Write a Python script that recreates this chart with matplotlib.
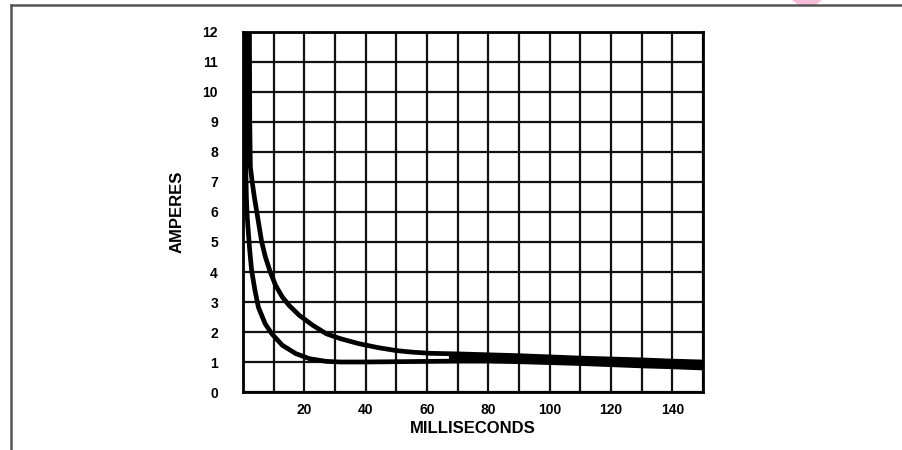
import numpy as np
import matplotlib
matplotlib.use("Agg")
import matplotlib.pyplot as plt
from matplotlib.patches import Ellipse
from matplotlib.lines import Line2D

# upper curve (outer)
upper_x = [2.1, 2.2, 2.4, 3.0, 3.7, 4.5, 5.3, 6.1, 7.3, 8.9, 10.6, 12.8, 15, 18.3, 22.8, 27.2, 31.7,
           37.8, 44, 50, 55, 61, 70, 80, 90, 100, 110, 120, 130, 140, 150]
upper_y = [12, 9, 7.5, 7.0, 6.5, 6, 5.5, 5, 4.5, 4, 3.56, 3.17, 2.89, 2.56, 2.22, 1.94, 1.78,
           1.61, 1.48, 1.38, 1.33, 1.29, 1.27, 1.24, 1.21, 1.17, 1.13, 1.1, 1.07, 1.03, 1.0]

# lower curve (inner)
lower_x = [0.5, 0.7, 0.9, 1.1, 1.4, 1.7, 2.2, 2.8, 3.9, 5, 7.2, 9.4, 12.8, 17.2, 21.7, 27.2, 31.7,
           40, 50, 60, 70, 80, 90, 100, 110, 120, 130, 140, 150]
lower_y = [12, 9, 7.5, 6.5, 5.8, 5.39, 4.72, 4.06, 3.39, 2.83, 2.28, 1.94, 1.56, 1.28, 1.11, 1.02, 1.0,
           1.0, 1.01, 1.02, 1.03, 1.03, 1.01, 0.98, 0.95, 0.91, 0.87, 0.84, 0.8]

x_ticks = [20, 40, 60, 80, 100, 120, 140]
y_ticks = list(range(0, 13))

fig = plt.figure(figsize=(9.03, 4.5), dpi=100)
ax = fig.add_axes([243 / 903, 1 - 392 / 450, 460 / 903, 360 / 450])

# grid
for gx in range(0, 151, 10):
    ax.axvline(gx, color="#111111", lw=1.6, zorder=1)
for gy in range(0, 13):
    ax.axhline(gy, color="#111111", lw=1.6, zorder=1)

ax.plot(upper_x, upper_y, color="black", lw=3.4, zorder=3, solid_capstyle="butt", solid_joinstyle="round")
ax.plot(lower_x, lower_y, color="black", lw=3.4, zorder=3, solid_capstyle="butt", solid_joinstyle="round")

# thick band where the curves run together (right side)
xs = np.linspace(67, 150, 200)
ax.fill_between(xs, np.interp(xs, lower_x, lower_y), np.interp(xs, upper_x, upper_y),
                color="black", zorder=3, lw=0)

# thick mass at the top left
ys = np.linspace(7.5, 12, 100)
xu = np.interp(ys, upper_y[:4][::-1], upper_x[:4][::-1])
ax.fill_betweenx(ys, 0, xu, color="black", zorder=3, lw=0)

ax.set_xlim(0, 150)
ax.set_ylim(0, 12)
ax.set_xticks(x_ticks)
ax.set_yticks(y_ticks)
ax.tick_params(length=0)
ax.tick_params(axis="y", pad=18)
ax.tick_params(axis="x", pad=8)
for lab in ax.get_xticklabels() + ax.get_yticklabels():
    lab.set_fontfamily("Liberation Sans")
    lab.set_fontweight("bold")
    lab.set_fontsize(10)
for sp in ax.spines.values():
    sp.set_linewidth(2)

ax.set_xlabel("MILLISECONDS", fontfamily="Liberation Sans", fontweight="bold", fontsize=12, labelpad=3)
ax.set_ylabel("AMPERES", fontfamily="Liberation Sans", fontweight="bold", fontsize=12, labelpad=13)

# page frame and pink mark
fig.add_artist(Line2D([11 / 903, 11 / 903], [0, 1 - 5 / 450], color="#555555", lw=1.8))
fig.add_artist(Line2D([11 / 903, 1], [1 - 5 / 450, 1 - 5 / 450], color="#555555", lw=1.8))
fig.add_artist(Ellipse((807 / 903, 1 + 13.6 / 450), 40 / 903, 40 / 450, color="#f6bcd9", lw=0, zorder=0))

fig.savefig("out.png", dpi=100)
